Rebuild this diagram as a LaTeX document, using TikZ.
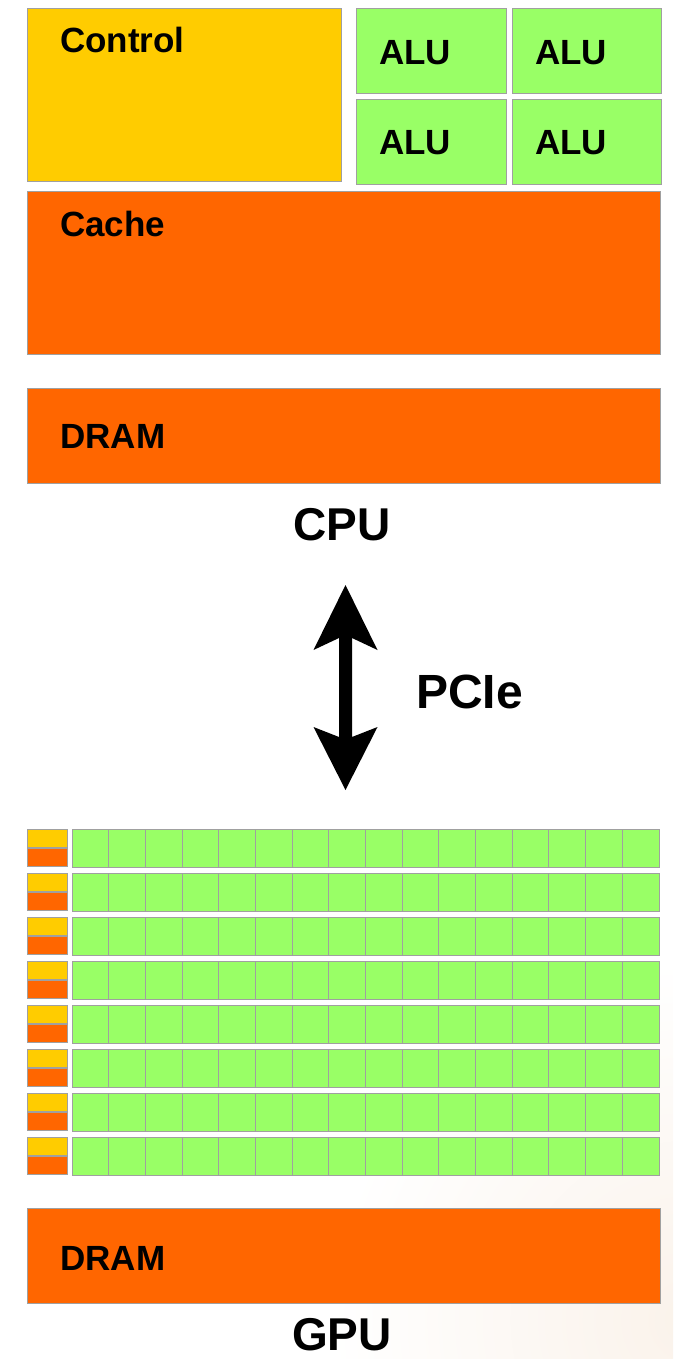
\documentclass[tikz,border=0pt]{standalone}
\usepackage{fontspec}
\setmainfont{Liberation Sans}
\definecolor{ctrlyellow}{HTML}{FFCC00}
\definecolor{cacheorange}{HTML}{FF6600}
\definecolor{alugreen}{HTML}{99FF66}
\definecolor{edgegray}{HTML}{A0A0A0}
\definecolor{glowpeach}{RGB}{250,242,234}
\begin{document}
\begin{tikzpicture}[x=1pt,y=-1pt,
  blk/.style={draw=edgegray, line width=1pt, inner sep=0pt, outer sep=0pt, anchor=north west},
  lbl/.style={font=\fontsize{35}{40}\selectfont\bfseries, anchor=base west, inner sep=0pt},
  heading/.style={font=\fontsize{46}{50}\selectfont\bfseries, anchor=base, inner sep=0pt}]
% page
\fill[white] (0,0) rectangle (673,1359);
\useasboundingbox (0,0) rectangle (673,1359);
\begin{scope}
  \clip (0,0) rectangle (673,1359);
  \shade[inner color=glowpeach, outer color=white] (690,1320) circle (360);
\end{scope}

% ---------------- CPU ----------------
\node[blk, fill=ctrlyellow, minimum width=314pt, minimum height=173pt] (ctrl) at (27,9) {};
\node[lbl] (ctrlT) at (60,53) {Control};

\node[blk, fill=alugreen, minimum width=150pt, minimum height=85pt] (alu1) at (356,9) {};
\node[blk, fill=alugreen, minimum width=149pt, minimum height=85pt] (alu2) at (512,9) {};
\node[blk, fill=alugreen, minimum width=150pt, minimum height=85pt] (alu3) at (356,100) {};
\node[blk, fill=alugreen, minimum width=149pt, minimum height=85pt] (alu4) at (512,100) {};
\node[lbl] (alu1T) at (379,65) {ALU};
\node[lbl] (alu2T) at (535,65) {ALU};
\node[lbl] (alu3T) at (379,155) {ALU};
\node[lbl] (alu4T) at (535,155) {ALU};

\node[blk, fill=cacheorange, minimum width=633pt, minimum height=162pt] (cache) at (27,192) {};
\node[lbl] (cacheT) at (60,236) {Cache};

\node[blk, fill=cacheorange, minimum width=633pt, minimum height=95pt] (cdram) at (27,388) {};
\node[lbl] (cdramT) at (60,448) {DRAM};

\node[heading] (cpu) at (342,540) {CPU};

% ---------------- PCIe link ----------------
\coordinate (linkTop) at (345.5,585);
\coordinate (linkBot) at (345.5,790);
\fill[black] (linkTop) -- (377.5,650) -- (352,638) -- (352,737) -- (377.5,727)
  -- (linkBot) -- (313.5,727) -- (339,737) -- (339,638) -- (313.5,650) -- cycle;
\node[font=\fontsize{48}{52}\selectfont\bfseries, anchor=base west, inner sep=0pt] (pcie) at (416,708) {PCIe};

% ---------------- GPU ----------------
\foreach \r in {0,...,7}{
  \pgfmathsetmacro\ry{829+44*\r}
  \node[blk, fill=ctrlyellow, minimum width=40pt, minimum height=18pt] (sctl-\r) at (27,\ry) {};
  \node[blk, fill=cacheorange, minimum width=40pt, minimum height=18pt] (scache-\r) at (27,\ry+19) {};
  \foreach \c in {0,...,15}{
    \node[blk, fill=alugreen, minimum width=36.69pt, minimum height=38pt] (core-\r-\c) at ({72+36.69*\c},\ry) {};
  }
}

\node[blk, fill=cacheorange, minimum width=633pt, minimum height=95pt] (gdram) at (27,1208) {};
\node[lbl] (gdramT) at (60,1270) {DRAM};

\node[heading] (gpu) at (342,1350) {GPU};
\end{tikzpicture}
\end{document}
